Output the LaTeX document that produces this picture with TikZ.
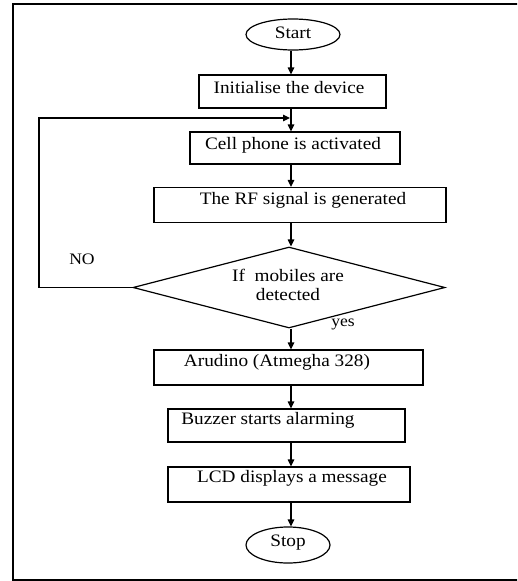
\documentclass[tikz,border=0pt]{standalone}
\usepackage{fontspec}
\setmainfont{Liberation Serif}[FakeStretch=1.1]
\usetikzlibrary{shapes.geometric,arrows.meta}
\tikzset{
  box/.style={draw, line width=1.2pt, rectangle, inner sep=0pt},
  term/.style={draw, line width=1.2pt, ellipse, inner sep=0pt},
  txt/.style={inner sep=0pt, font=\fontsize{17.5}{19}\selectfont},
  lbl/.style={inner sep=0pt, font=\fontsize{16}{18}\selectfont},
  arr/.style={line width=1.2pt, -{Triangle[length=7pt,width=6.5pt]}},
  ln/.style={line width=1.2pt}
}
\begin{document}
\begin{tikzpicture}[x=1pt,y=-1pt]
\useasboundingbox (0,0) rectangle (517,581);
\begin{scope}
\clip (0,0) rectangle (517,581);
\draw[line width=2pt] (13,4) rectangle (540,580);
\end{scope}
\coordinate (spine) at (291,0);
% nodes
\node[term, minimum width=94pt, minimum height=31pt] (start) at (293,34.5) {};
\node[txt] at (293,33) {Start};
\node[box, minimum width=187pt, minimum height=33pt] (init) at (292.5,91.5) {};
\node[txt] at (289,87.5) {Initialise the device};
\node[box, minimum width=210pt, minimum height=32pt] (cell) at (295,148) {};
\node[txt] at (293,145) {Cell phone is activated};
\node[box, minimum width=292pt, minimum height=35pt] (rf) at (300,205) {};
\node[txt] at (303,200) {The RF signal is generated};
\node[diamond, draw, line width=1.2pt, inner sep=0pt, minimum width=312pt, minimum height=81pt] (dec) at (289,287.5) {};
\node[txt, align=center] at (288,285) {If \ mobiles are\\detected};
\node[box, minimum width=269pt, minimum height=35pt] (ard) at (288.5,367.5) {};
\node[txt] at (277,362) {Arudino (Atmegha 328)};
\node[box, minimum width=237pt, minimum height=33pt] (buz) at (286.5,425.5) {};
\node[txt] at (268,420) {Buzzer starts alarming};
\node[box, minimum width=242pt, minimum height=35pt] (lcd) at (289,484.5) {};
\node[txt] at (292,478) {LCD displays a message};
\node[term, minimum width=84pt, minimum height=36pt] (stop) at (288,545) {};
\node[txt] at (288,543) {Stop};
\node[lbl] (no) at (82,259) {NO};
\node[lbl] (yes) at (343,324) {yes};
% connectors
\coordinate (loopL) at (39,118);
\coordinate (loopR) at (290,118);
\draw[arr] (spine |- start.south) -- (spine |- init.north);
\draw[arr] (spine |- init.south) -- (spine |- cell.north);
\draw[arr] (dec.west) -- (dec.west -| loopL) -- (loopL) -- (loopR);
\draw[arr] (spine |- cell.south) -- (spine |- rf.north);
\draw[arr] (spine |- rf.south) -- (spine |- dec.north);
\draw[arr] (spine |- dec.south) -- (spine |- ard.north);
\draw[arr] (spine |- ard.south) -- (spine |- buz.north);
\draw[arr] (spine |- buz.south) -- (spine |- lcd.north);
\draw[arr] (spine |- lcd.south) -- (spine |- stop.north);
\end{tikzpicture}
\end{document}
